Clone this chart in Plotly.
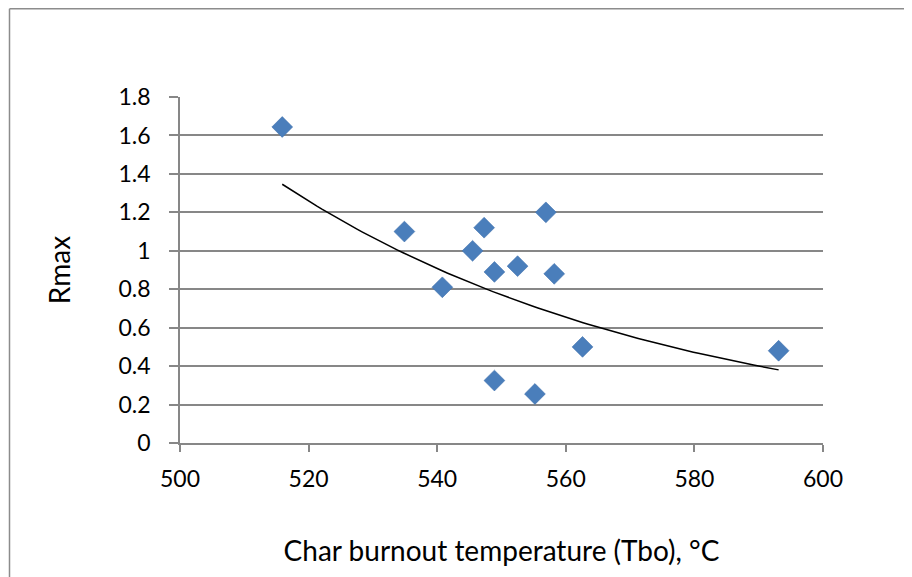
import numpy as np
import plotly.graph_objects as go

# Data
tbo = [515.9, 534.9, 540.8, 545.5, 547.3, 548.9, 548.9, 552.5, 555.2, 556.9, 558.2, 562.6, 593.1]
rmax = [1.644, 1.10, 0.81, 1.00, 1.12, 0.89, 0.325, 0.92, 0.255, 1.20, 0.88, 0.50, 0.48]

x_title = "Char burnout temperature (Tbo), °C"
y_title = "Rmax"

# Exponential trendline (least squares on ln y), as in the spreadsheet chart
xa = np.array(tbo)
ya = np.array(rmax)
b, ln_a = np.polyfit(xa, np.log(ya), 1)
xt = np.linspace(xa.min(), xa.max(), 100)
yt = np.exp(ln_a) * np.exp(b * xt)

# The page body keeps its default 8px margin, so the figure is drawn 8px in
W, H = 904, 569
L, R, T, B = 172, 89, 89, 134

fig = go.Figure()
fig.add_trace(go.Scatter(x=xt, y=yt, mode="lines",
                         line=dict(color="black", width=1.5),
                         showlegend=False, hoverinfo="skip"))
fig.add_trace(go.Scatter(x=tbo, y=rmax, mode="markers",
                         marker=dict(symbol="diamond", size=16, color="#4a7ebb",
                                     line=dict(color="#3f71ad", width=0.6)),
                         showlegend=False))

pw = W - L - R
ph = H - T - B
top_px = 0.8
left_px = 1.5
# outer chart-area frame (left and top edges visible)
fig.add_shape(type="line", xref="paper", yref="paper",
              x0=(left_px - L) / pw, x1=(W - L) / pw,
              y0=1 + (T - top_px) / ph, y1=1 + (T - top_px) / ph,
              line=dict(color="#8c8c8c", width=1.5), layer="above")
fig.add_shape(type="line", xref="paper", yref="paper",
              x0=(left_px - L) / pw, x1=(left_px - L) / pw,
              y0=-B / ph, y1=1 + (T - top_px) / ph,
              line=dict(color="#8c8c8c", width=1.5), layer="above")

font = "Lato, Calibri, Carlito, sans-serif"
fig.update_layout(
    width=W, height=H,
    margin=dict(l=L, r=R, t=T, b=B, pad=0),
    paper_bgcolor="white", plot_bgcolor="white",
    font=dict(family=font, size=23, color="black"),
    xaxis=dict(range=[500, 600], dtick=20, tick0=500, showgrid=False,
               showline=True, linecolor="#878787", linewidth=1.5,
               ticks="outside", ticklen=7, tickwidth=1.5, tickcolor="#878787",
               zeroline=False,
               title=dict(text=x_title, standoff=50),
               ticklabelstandoff=8,
               tickfont=dict(size=23)),
    yaxis=dict(range=[0, 1.8], dtick=0.2, tick0=0, showgrid=True,
               gridcolor="#878787", gridwidth=1.5,
               showline=True, linecolor="#878787", linewidth=1.5,
               ticks="outside", ticklen=9, tickwidth=1.5, tickcolor="#878787",
               zeroline=False, tickformat="~g",
               ticklabelstandoff=14,
               title=dict(text=y_title, standoff=40),
               tickfont=dict(size=23)),
)

fig.write_html("out.html", config={"displayModeBar": False})
